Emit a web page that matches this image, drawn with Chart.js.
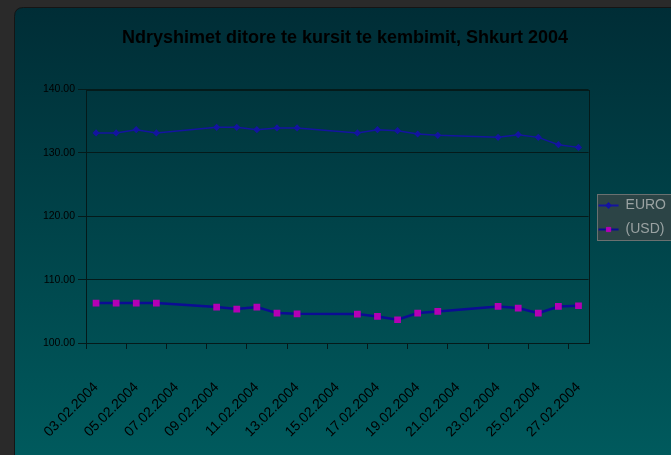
<!DOCTYPE html>
<html><head><meta charset="utf-8">
<script src="https://cdn.jsdelivr.net/npm/chart.js@4.4.1/dist/chart.umd.min.js"></script>
<style>
html,body{margin:0;padding:0;background:#2a2a2a;overflow:hidden;width:671px;height:455px}
canvas{display:block}
</style></head><body>
<canvas id="c" width="676" height="455"></canvas>
<script>
const categories = ['03.02.2004','04.02.2004','05.02.2004','06.02.2004','07.02.2004','08.02.2004','09.02.2004','10.02.2004','11.02.2004','12.02.2004','13.02.2004','14.02.2004','15.02.2004','16.02.2004','17.02.2004','18.02.2004','19.02.2004','20.02.2004','21.02.2004','22.02.2004','23.02.2004','24.02.2004','25.02.2004','26.02.2004','27.02.2004'];
const euroValues = [133.16,133.16,133.68,133.16,null,null,134.04,134.04,133.68,133.95,133.95,null,null,133.16,133.68,133.52,133.00,132.78,null,null,132.46,132.89,132.46,131.31,130.88];
const usdValues = [106.30,106.30,106.30,106.30,null,null,105.67,105.36,105.67,104.72,104.61,null,null,104.57,104.19,103.67,104.72,104.98,null,null,105.77,105.51,104.72,105.77,105.88];
const seriesNames = ['EURO','(USD)'];
const yMin = 100, yMax = 140, yStep = 10;
const chartTitle = 'Ndryshimet ditore te kursit te kembimit, Shkurt 2004';

const FONT = '"Liberation Sans", Arial, sans-serif';
const EUR_COLOR = '#1414a0';
const USD_COLOR = '#0c0c94';
const USD_MARK = '#b400b4';
const GRID = '#041a1a';
const LEGEND_SHIFT = -10;

const bgPlugin = {
  id: 'bg',
  afterLayout(chart) {
    const lg = chart.legend;
    if (lg) { lg.top += LEGEND_SHIFT; lg.bottom += LEGEND_SHIFT; }
  },
  beforeDraw(chart) {
    const ctx = chart.ctx;
    ctx.save();
    const g = ctx.createLinearGradient(0, 7, 0, 455);
    g.addColorStop(0, '#002d36');
    g.addColorStop(1, '#005a5d');
    const x = 14.5, y = 7.5, w = 700, h = 500, r = 9;
    ctx.beginPath();
    ctx.moveTo(x + r, y);
    ctx.lineTo(x + w, y);
    ctx.lineTo(x + w, y + h);
    ctx.lineTo(x, y + h);
    ctx.lineTo(x, y + r);
    ctx.quadraticCurveTo(x, y, x + r, y);
    ctx.closePath();
    ctx.fillStyle = g;
    ctx.fill();
    ctx.strokeStyle = '#151515';
    ctx.lineWidth = 1;
    ctx.stroke();
    const lg = chart.legend;
    if (lg && lg.legendHitBoxes && lg.legendHitBoxes.length) {
      const hb = lg.legendHitBoxes;
      const c0 = hb[0].top + hb[0].height / 2;
      const c1 = hb[hb.length - 1].top + hb[hb.length - 1].height / 2;
      const top = Math.round(c0 - 12), bot = Math.round(c1 + 10);
      ctx.fillStyle = '#2c4446';
      ctx.fillRect(597.5, top + 0.5, 120, bot - top);
      ctx.strokeStyle = '#6a7070';
      ctx.strokeRect(597.5, top + 0.5, 120, bot - top);
    }
    ctx.restore();
  },
  beforeDatasetsDraw(chart) {
    const {ctx, chartArea: a} = chart;
    ctx.save();
    ctx.strokeStyle = GRID;
    ctx.lineWidth = 1;
    ctx.strokeRect(Math.round(a.left) + 0.5, Math.round(a.top) + 0.5, Math.round(a.right - a.left), Math.round(a.bottom - a.top));
    ctx.restore();
  },
  afterDraw(chart) {
    const lg = chart.legend;
    if (!lg || !lg.legendHitBoxes) return;
    const ctx = chart.ctx;
    const bw = lg.options.labels.boxWidth;
    lg.legendHitBoxes.forEach((hb, i) => {
      const ds = chart.data.datasets[i];
      ctx.save();
      ctx.fillStyle = ds.pointBackgroundColor;
      ctx.strokeStyle = ds.pointBorderColor;
      Chart.helpers.drawPoint(ctx, {pointStyle: ds.pointStyle, radius: 3, borderWidth: 1, rotation: 0}, hb.left + bw / 2, hb.top + hb.height / 2);
      ctx.restore();
    });
  }
};

new Chart(document.getElementById('c'), {
  type: 'line',
  data: {
    labels: categories,
    datasets: [
      {label: seriesNames[0], data: euroValues, borderColor: EUR_COLOR, backgroundColor: EUR_COLOR, borderWidth: 1.5,
       pointStyle: 'rectRot', pointRadius: 2.5, pointBackgroundColor: EUR_COLOR, pointBorderColor: EUR_COLOR, spanGaps: true, tension: 0},
      {label: seriesNames[1], data: usdValues, borderColor: USD_COLOR, backgroundColor: USD_COLOR, borderWidth: 2.5,
       pointStyle: 'rect', pointRadius: 3, pointBackgroundColor: USD_MARK, pointBorderColor: USD_MARK, spanGaps: true, tension: 0}
    ]
  },
  options: {
    responsive: false,
    animation: false,
    devicePixelRatio: 1,
    layout: {padding: {left: 14, right: 0, top: 0, bottom: 0}},
    plugins: {
      title: {display: true, text: chartTitle, color: '#000', font: {family: FONT, size: 18, weight: 'bold'}, padding: {top: 27, bottom: 41}},
      legend: {
        position: 'right',
        labels: {
          color: '#9aa2a2', font: {family: FONT, size: 14}, boxWidth: 20, boxHeight: 2, padding: 10,
          generateLabels(chart) {
            return Chart.defaults.plugins.legend.labels.generateLabels(chart).map(l => Object.assign(l, {lineWidth: 0}));
          }
        }
      },
      tooltip: {enabled: false}
    },
    scales: {
      x: {
        type: 'category',
        offset: true,
        ticks: {
          autoSkip: false, minRotation: 45, maxRotation: 45, color: '#000', padding: 30,
          font: {family: FONT, size: 14},
          callback(v, i) { return i % 2 === 0 ? this.getLabelForValue(v) : ''; }
        },
        grid: {offset: true, drawOnChartArea: false, drawTicks: true, tickLength: 6,
               color: (c) => (c.index % 2 === 0 ? GRID : 'rgba(0,0,0,0)')},
        border: {color: GRID},
        afterFit(s) { s.height = 112; }
      },
      y: {
        min: yMin, max: yMax,
        ticks: {stepSize: yStep, color: '#000', padding: 3, font: {family: FONT, size: 10.5},
                callback: (v) => Number(v).toFixed(2)},
        grid: {color: GRID, tickLength: 8, drawTicks: true},
        border: {color: GRID},
        afterFit(s) { s.width = 72; }
      }
    }
  },
  plugins: [bgPlugin]
});
</script>
</body></html>
